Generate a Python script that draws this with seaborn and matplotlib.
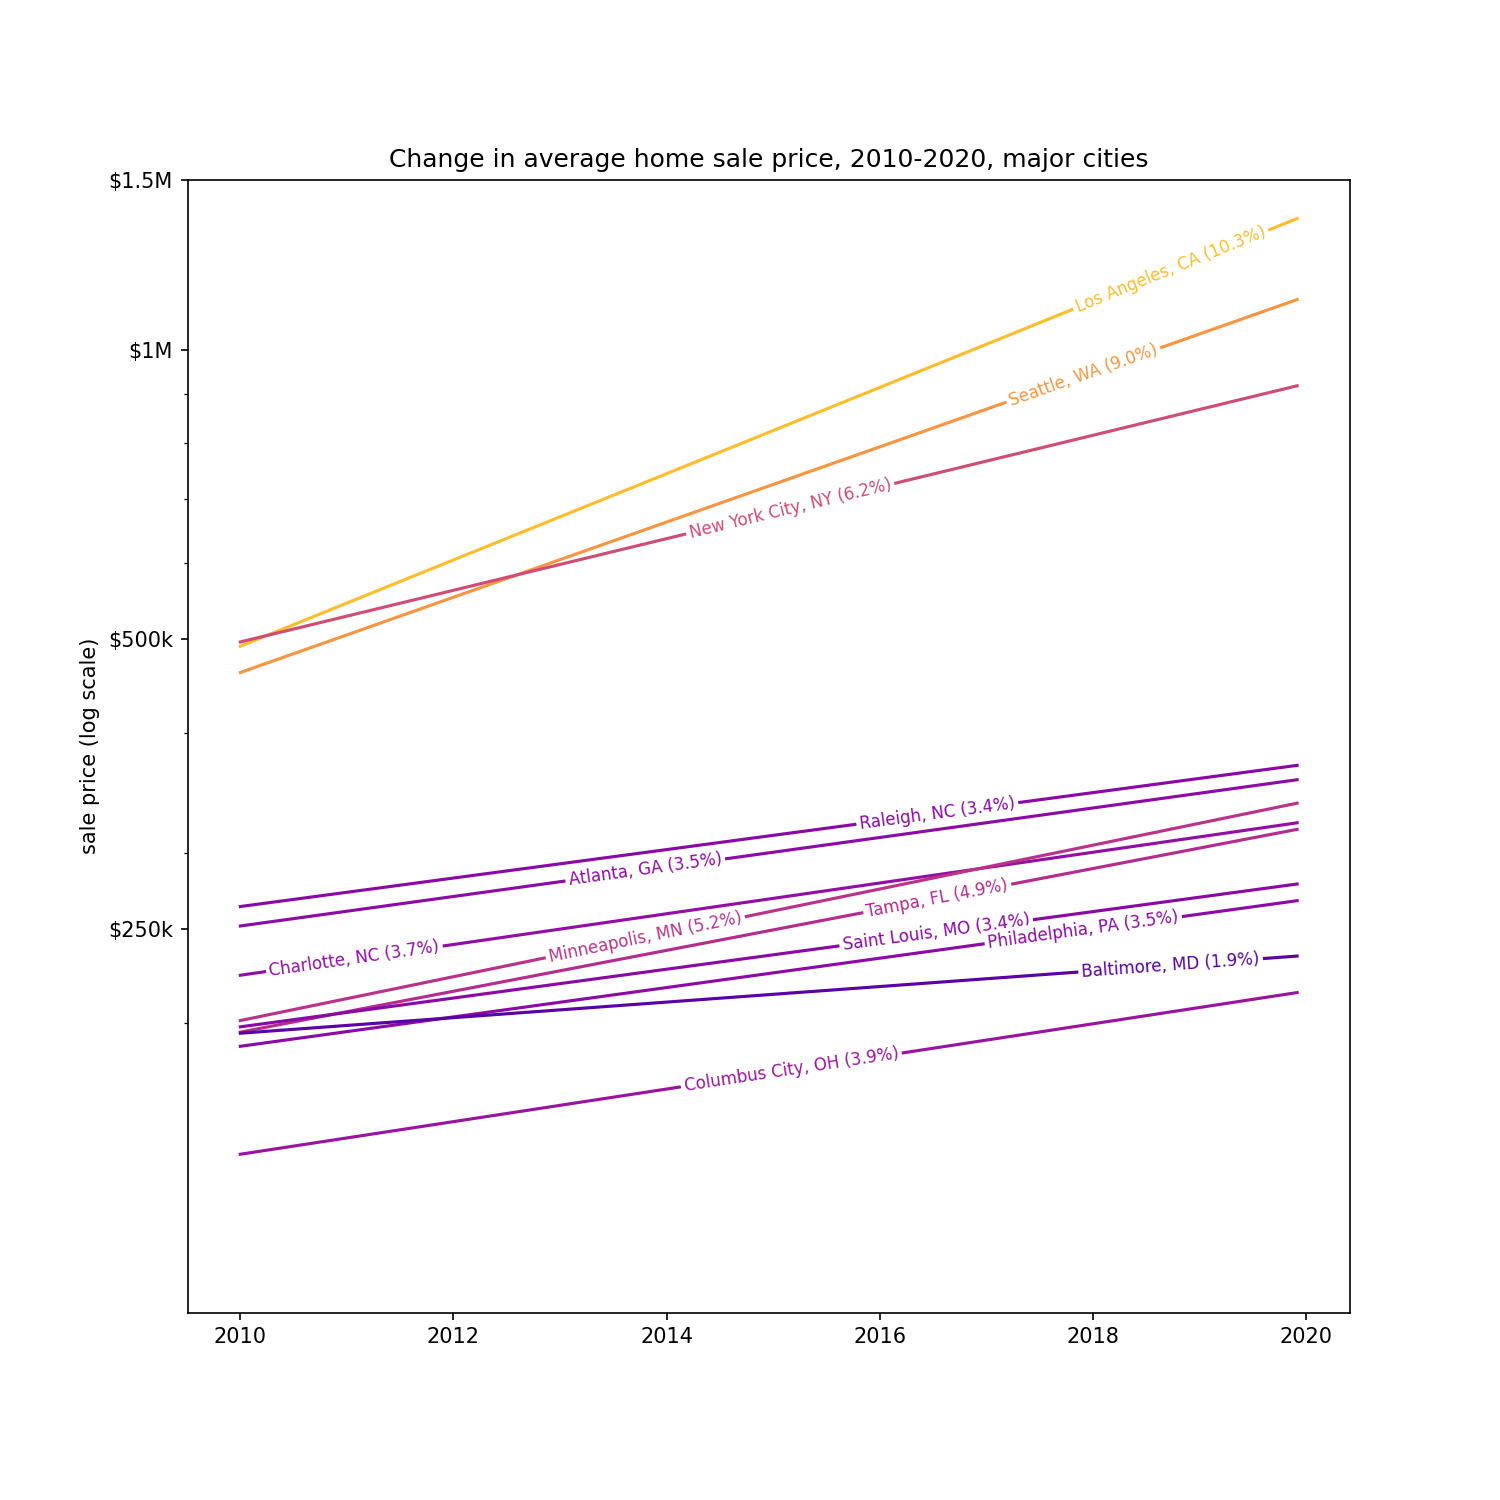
import numpy as np
import pandas as pd
import matplotlib
matplotlib.use("Agg")
import matplotlib.pyplot as plt
import seaborn as sns
from matplotlib.colors import Normalize
from matplotlib.ticker import NullFormatter

# valores (preço médio em 2010 e no fim de 2019)
cidades = ['Los Angeles, CA', 'Seattle, WA', 'New York City, NY', 'Raleigh, NC',
           'Atlanta, GA', 'Charlotte, NC', 'Minneapolis, MN', 'Tampa, FL',
           'Saint Louis, MO', 'Philadelphia, PA', 'Baltimore, MD', 'Columbus City, OH']
preco_inicio = [492e3, 462e3, 497e3, 264e3, 252e3, 224e3, 201e3, 195.5e3,
                198e3, 189e3, 195e3, 146e3]
preco_fim = [1368e3, 1127e3, 917e3, 370e3, 357.5e3, 322.5e3, 338e3, 317.5e3,
             278.6e3, 267.7e3, 234.5e3, 214.9e3]
taxa_anual = [10.3, 9.0, 6.2, 3.4, 3.5, 3.7, 5.2, 4.9, 3.4, 3.5, 1.9, 3.9]
anos = [2010.0, 2019 + 11 / 12]

# posição (ano) do rótulo em cada linha
x_rotulo = [2018.73, 2017.91, 2015.16, 2016.54, 2013.8, 2011.07,
            2013.8, 2016.54, 2016.53, 2017.91, 2018.73, 2015.17]

ticks_y = [250e3, 500e3, 1e6, 1.5e6]
ticks_y_txt = ['$250k', '$500k', '$1M', '$1.5M']

linhas = []
for c, a, b in zip(cidades, preco_inicio, preco_fim):
    linhas.append({'cidade': c, 'ano': anos[0], 'preco': a})
    linhas.append({'cidade': c, 'ano': anos[1], 'preco': b})
df = pd.DataFrame(linhas)

cmap = plt.get_cmap('plasma')
norm = Normalize(0, 12)
cores = {c: cmap(norm(t)) for c, t in zip(cidades, taxa_anual)}

fig = plt.figure(figsize=(10, 10), dpi=150)
ax = fig.add_subplot(111)
fig.subplots_adjust(left=0.125, right=0.9, bottom=0.125, top=0.88)

sns.lineplot(data=df, x='ano', y='preco', hue='cidade', palette=cores,
             hue_order=cidades, legend=False, linewidth=1.5, ax=ax)

ax.set_yscale('log')
ax.set_ylim(1e5, 1.5e6)
ax.set_xlim(2009.504, 2020.413)
ax.set_yticks(ticks_y)
ax.set_yticklabels(ticks_y_txt)
ax.yaxis.set_minor_formatter(NullFormatter())
ax.set_xticks(range(2010, 2021, 2))
ax.set_xticklabels([str(a) for a in range(2010, 2021, 2)])
ax.set_xlabel('')
ax.set_ylabel('sale price (log scale)')
ax.set_title('Change in average home sale price, 2010-2020, major cities')

fig.canvas.draw()

# rótulos embutidos nas linhas
for c, a, b, t, xr in zip(cidades, preco_inicio, preco_fim, taxa_anual, x_rotulo):
    frac = (xr - anos[0]) / (anos[1] - anos[0])
    yr = a * (b / a) ** frac
    p0 = ax.transData.transform((anos[0], a))
    p1 = ax.transData.transform((anos[1], b))
    ang = np.degrees(np.arctan2(p1[1] - p0[1], p1[0] - p0[0]))
    ax.text(xr, yr, f'{c} ({t:.1f}%)', color=cores[c], fontsize=8,
            rotation=ang, rotation_mode='anchor', ha='center', va='center',
            bbox=dict(boxstyle='square,pad=0.2', fc='white', ec='none'),
            zorder=5)

fig.savefig('out.png', dpi=150)
